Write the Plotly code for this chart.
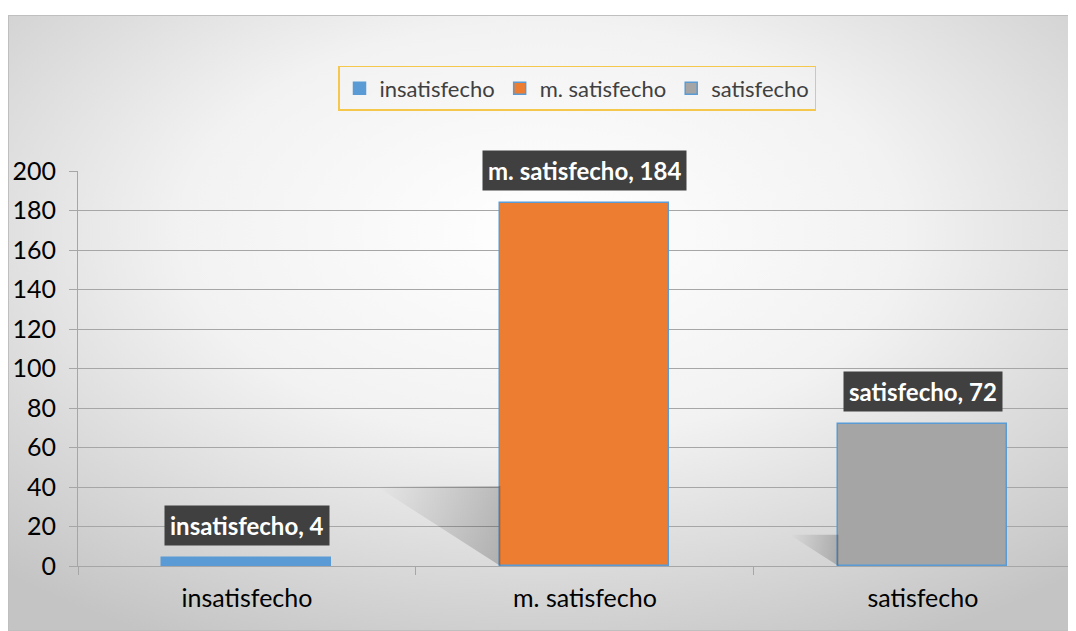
import base64
import plotly.graph_objects as go

# data
categories = ["insatisfecho", "m. satisfecho", "satisfecho"]
counts = [4, 184, 72]
bar_colors = ["#5B9BD5", "#ED7D31", "#A5A5A5"]
y_ticks = [0, 20, 40, 60, 80, 100, 120, 140, 160, 180, 200]

FONT = "Lato, 'Open Sans', sans-serif"
BAR_W = 0.5

# radial grey-to-white chart background, as an inline svg
svg = (
    '<svg xmlns="http://www.w3.org/2000/svg" width="1068" height="616" preserveAspectRatio="none">'
    '<defs><radialGradient id="g" cx="50%" cy="35%" r="75%">'
    '<stop offset="0%" stop-color="#ffffff"/><stop offset="45%" stop-color="#f2f2f2"/>'
    '<stop offset="100%" stop-color="#c4c4c4"/></radialGradient></defs>'
    '<rect width="1068" height="616" fill="url(#g)" stroke="#bfbfbf" stroke-width="2"/></svg>'
)
bg_src = "data:image/svg+xml;base64," + base64.b64encode(svg.encode()).decode()

fig = go.Figure()

# soft perspective shadows to the left of each bar
for i, v in enumerate(counts):
    h = 0.22 * v
    off = h * 0.0091
    left = i - BAR_W / 2
    if h < 2:
        continue
    fig.add_trace(go.Scatter(
        x=[left - off, left, left, left - off],
        y=[h, h, 0, h],
        mode="lines", line=dict(width=0),
        fill="toself",
        fillgradient=dict(type="horizontal",
                          colorscale=[[0, "rgba(0,0,0,0.0)"], [1, "rgba(0,0,0,0.20)"]]),
        hoverinfo="skip", showlegend=False,
    ))

for i, (cat, v, col) in enumerate(zip(categories, counts, bar_colors)):
    fig.add_trace(go.Bar(
        x=[i], y=[v], name=cat, width=BAR_W,
        marker=dict(color=col, line=dict(color="#5B9BD5", width=1.5)),
    ))

# data labels: dark boxes
for i, (cat, v) in enumerate(zip(categories, counts)):
    fig.add_annotation(
        x=i, y=v, xref="x", yref="y",
        text=f"<b>{cat}, {v}</b>",
        showarrow=False, yanchor="bottom", yshift=12,
        font=dict(family=FONT, size=24, color="#FFFFFF"),
        bgcolor="#404040", borderpad=5,
    )

fig.update_layout(
    width=1068, height=623,
    margin=dict(l=70, r=0, t=163, b=65),
    paper_bgcolor="#FFFFFF",
    plot_bgcolor="rgba(0,0,0,0)",
    font=dict(family=FONT, color="#000000"),
    barmode="overlay",
    bargap=0,
    images=[dict(source=bg_src, xref="paper", yref="paper",
                 x=-70 / 998, y=551 / 395, sizex=1068 / 998, sizey=616 / 395,
                 xanchor="left", yanchor="top", sizing="stretch", layer="below")],
    legend=dict(
        orientation="h", x=0.5, xanchor="center", y=1.266, yanchor="top",
        bgcolor="rgba(0,0,0,0)", bordercolor="#F5C74A", borderwidth=1.5,
        font=dict(family=FONT, size=22, color="#404040"),
        itemwidth=30, traceorder="normal",
    ),
    xaxis=dict(
        range=[-0.5, 2.453],
        tickvals=[0, 1, 2], ticktext=categories,
        ticks="", showgrid=False, zeroline=False,
        showline=True, linecolor="#A6A6A6", linewidth=1,
        tickfont=dict(family=FONT, size=25, color="#000000"),
        ticklabelstandoff=10,
        minor=dict(tickvals=[-0.5, 0.5, 1.5, 2.5], ticks="outside",
                   ticklen=8, tickcolor="#A6A6A6", showgrid=False),
        fixedrange=True,
    ),
    yaxis=dict(
        range=[0, 200], tickvals=y_ticks,
        ticks="outside", ticklen=8, tickcolor="#A6A6A6",
        showgrid=True, gridcolor="#A6A6A6", gridwidth=1,
        zeroline=False, showline=True, linecolor="#A6A6A6", linewidth=1,
        tickfont=dict(family=FONT, size=25, color="#000000"),
        ticklabelstandoff=8,
        fixedrange=True,
    ),
)

fig.write_html("out.html")
